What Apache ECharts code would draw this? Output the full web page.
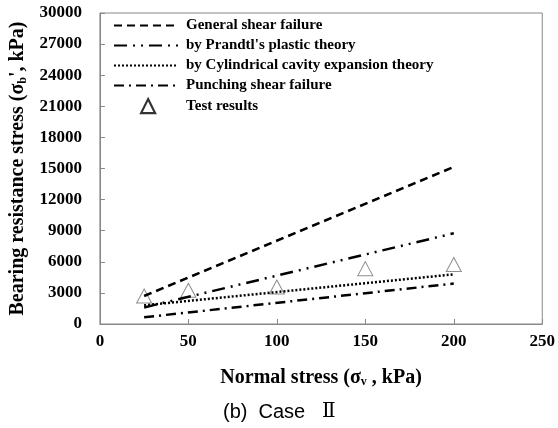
<!DOCTYPE html>
<html>
<head>
<meta charset="utf-8">
<script src="https://cdn.jsdelivr.net/npm/echarts@6/dist/echarts.min.js"></script>
<style>
  html, body { margin: 0; padding: 0; background: #fff; }
  #box { width: 558px; height: 428px; }
</style>
</head>
<body>
<div id="box"></div>
<script>
// theory lines (x = normal stress, kPa)
const lineX = [25, 200]
const generalShear = [2700, 15150]
const prandtl = [1600, 8750]
const cylindrical = [1800, 4790]
const punching = [650, 3900]

// test results
const testX = [25, 50, 100, 150, 200]
const testY = [2700, 3250, 3570, 5340, 5740]

const names = [
  'General shear failure',
  "by Prandtl's plastic theory",
  'by Cylindrical cavity expansion theory',
  'Punching shear failure',
  'Test results'
]

const serif = '"Liberation Serif", "Times New Roman", serif'
const axisColor = '#888'

const pairs = (xs, ys) => xs.map((x, i) => [x, ys[i]])

const lineSeries = (name, values, dash) => ({
  name,
  type: 'line',
  data: pairs(lineX, values),
  symbol: 'none',
  z: 3,
  itemStyle: { color: '#000' },
  lineStyle: { color: '#000', width: 2.5, type: dash }
})

const subStyle = { fontFamily: serif, fontWeight: 'bold', fontSize: 12, verticalAlign: 'bottom', padding: [9, 0, 0, 0] }
const legendText = { fontFamily: serif, fontWeight: 'bold', fontSize: 15, color: '#000' }

const chart = echarts.init(document.getElementById('box'))

chart.setOption({
  animation: false,
  backgroundColor: '#fff',
  grid: {
    left: 98,
    right: 13,
    top: 13,
    bottom: 104,
    show: true,
    borderColor: axisColor,
    borderWidth: 1
  },
  legend: [
    {
      orient: 'vertical',
      left: 108,
      top: 13,
      itemWidth: 64,
      itemHeight: 14,
      itemGap: 5,
      textStyle: { ...legendText, padding: [0, 0, 0, 3] },
      // hide the marker the line icon carries, keep the dashed stroke
      data: names.slice(0, 4).map(n => ({ name: n, itemStyle: { opacity: 0 } }))
    },
    {
      orient: 'vertical',
      left: 135,
      top: 93,
      itemWidth: 14,
      itemHeight: 14,
      textStyle: { ...legendText, padding: [0, 0, 0, 26] },
      data: [{ name: names[4], itemStyle: { color: '#fff', borderColor: '#000', borderWidth: 2.2 } }]
    }
  ],
  xAxis: {
    type: 'value',
    min: 0,
    max: 250,
    interval: 50,
    name: 'Normal stress (σ{s|v} , kPa)',
    nameLocation: 'middle',
    nameGap: 43,
    nameTextStyle: {
      fontFamily: serif, fontWeight: 'bold', fontSize: 20, color: '#000',
      rich: { s: subStyle }
    },
    axisLine: { lineStyle: { color: axisColor } },
    axisTick: { inside: true, length: 5, lineStyle: { color: axisColor } },
    splitLine: { show: false },
    axisLabel: { margin: 9, fontFamily: serif, fontWeight: 'bold', fontSize: 17, color: '#000' }
  },
  yAxis: {
    type: 'value',
    min: 0,
    max: 30000,
    interval: 3000,
    name: "Bearing resistance stress (σ{s|b}', kPa)",
    nameLocation: 'middle',
    nameGap: 70,
    nameTextStyle: {
      fontFamily: serif, fontWeight: 'bold', fontSize: 20, color: '#000',
      rich: { s: subStyle }
    },
    axisLine: { show: true, lineStyle: { color: axisColor } },
    axisTick: { show: true, inside: true, length: 5, lineStyle: { color: axisColor } },
    splitLine: { show: false },
    axisLabel: {
      margin: 18, fontFamily: serif, fontWeight: 'bold', fontSize: 17, color: '#000',
      formatter: v => String(v)
    }
  },
  series: [
    {
      name: names[4],
      type: 'scatter',
      data: pairs(testX, testY),
      symbol: 'triangle',
      symbolSize: [15, 14],
      z: 2,
      itemStyle: { color: 'rgba(255,255,255,0)', borderColor: '#707070', borderWidth: 1 }
    },
    lineSeries(names[0], generalShear, [8, 5]),
    lineSeries(names[1], prandtl, [13, 6, 2, 6, 2, 6]),
    lineSeries(names[2], cylindrical, [2, 2]),
    lineSeries(names[3], punching, [10, 5, 2, 5])
  ],
  graphic: [
    {
      type: 'text',
      left: 223,
      top: 402,
      style: {
        text: '(b)  Case   {r|Ⅱ}',
        font: '20px "Liberation Sans", Arial, sans-serif',
        fill: '#000',
        rich: { r: { fontFamily: '"DejaVu Serif"', fontSize: 20, fill: '#000' } }
      }
    }
  ]
})
</script>
</body>
</html>
